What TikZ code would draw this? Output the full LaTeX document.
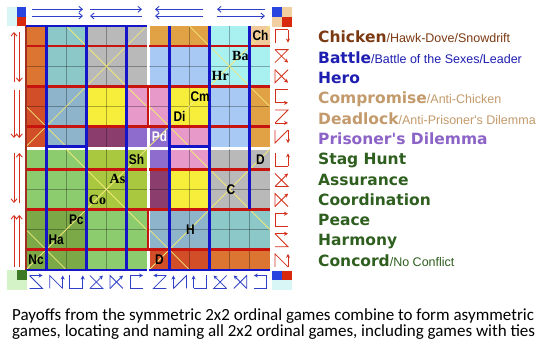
\documentclass[tikz,border=0pt]{standalone}
\usepackage{fontspec}
\usepackage{graphicx}
\setmainfont{Liberation Sans}
\newfontfamily\vfont{DejaVu Sans}
\newfontfamily\afont{Liberation Sans}
\newfontfamily\sfont{Liberation Serif}
\newfontfamily\cfont{Carlito}
\usetikzlibrary{arrows.meta}
% cell colours
\definecolor{cO}{HTML}{DD7532}
\definecolor{cR}{HTML}{D24E28}
\definecolor{cT}{HTML}{8CC8C8}
\definecolor{cB}{HTML}{8DB4CB}
\definecolor{cG}{HTML}{B9B9B9}
\definecolor{cY}{HTML}{F7EE3C}
\definecolor{cK}{HTML}{E799C9}
\definecolor{cM}{HTML}{8B3D6E}
\definecolor{cP}{HTML}{8E6CCD}
\definecolor{cA}{HTML}{E1A145}
\definecolor{cL}{HTML}{A9C9F5}
\definecolor{cC}{HTML}{A9F1F1}
\definecolor{cE}{HTML}{F1CA9B}
\definecolor{cN}{HTML}{8DCB6F}
\definecolor{cW}{HTML}{A9C83F}
\definecolor{cV}{HTML}{7CA948}
% lines and decorations
\definecolor{thred}{HTML}{C8140F}
\definecolor{thblue}{HTML}{1515C8}
\definecolor{diagy}{HTML}{F0E878}
\definecolor{icred}{HTML}{D4301C}
\definecolor{icblue}{HTML}{2F3FC8}
\definecolor{edgered}{HTML}{A03020}
\definecolor{crcyan}{HTML}{D8F6F6}
\definecolor{crblue}{HTML}{2845E0}
\definecolor{crred}{HTML}{D8280E}
\definecolor{crpeach}{HTML}{F2CFA0}
\definecolor{crlgreen}{HTML}{D4F4C8}
\definecolor{crdgreen}{HTML}{3E7A26}
% legend colours
\definecolor{lbrown}{HTML}{7B3A12}
\definecolor{lblue}{HTML}{1E1EB0}
\definecolor{ltan}{HTML}{C39A6B}
\definecolor{lpurple}{HTML}{8C63C6}
\definecolor{lgreen}{HTML}{2F5F1F}

\newcommand\gicon[5]{%
  \begin{scope}[shift={(#1,#2)},x=13pt,y=13pt]
    \draw[#3,line width=0.8pt] #4;
    \draw[#3,line width=0.8pt,-{Stealth[length=4pt,width=4pt]}] #5;
  \end{scope}}
\newcommand\lb[1]{{\vfont\bfseries\fontsize{15.5}{18}\selectfont #1}}
\newcommand\lr[1]{{\afont\mdseries\fontsize{12.5}{15}\selectfont #1}}
\newcommand\nq[1]{\scalebox{0.85}[1]{#1}}

\begin{document}
\begin{tikzpicture}[x=1pt,y=-1pt,
  thinl/.style={black,opacity=0.3,line width=0.5pt},
  diagl/.style={diagy,line width=0.8pt},
  redl/.style={thred,line width=2.8pt},
  bluel/.style={thblue,line width=2.8pt},
  barrowb/.style={icblue,line width=0.9pt,-{Straight Barb[length=3.5pt,width=6pt]}},
  barrowr/.style={icred,line width=0.9pt,-{Straight Barb[length=3.5pt,width=6pt]}},
  lab/.style={inner sep=0pt,font=\afont\bfseries\fontsize{14}{14}\selectfont},
  labs/.style={inner sep=0pt,font=\sfont\bfseries\fontsize{14}{14}\selectfont},
  leg/.style={anchor=base west,inner sep=0pt},
  capt/.style={anchor=base west,inner sep=0pt,font=\cfont\fontsize{17}{17}\selectfont}]
\useasboundingbox (0,0) rectangle (550,347);
\fill[white] (0,0) rectangle (550,347);

% ---- cells
\foreach \rowl [count=\ri from 0] in {
 {O,T,T,G,G,G,A,A,A,C,C,E},
 {O,T,T,G,G,G,L,L,L,C,C,C},
 {O,T,T,G,G,G,L,L,L,C,C,C},
 {R,B,B,Y,Y,K,K,Y,Y,L,L,A},
 {R,B,B,Y,Y,K,K,Y,Y,L,L,A},
 {R,B,B,M,M,P,P,K,K,L,L,A},
 {N,N,N,W,W,W,P,K,K,G,G,G},
 {N,N,N,W,W,W,M,Y,Y,G,G,G},
 {N,N,N,W,W,W,M,Y,Y,G,G,G},
 {V,V,V,N,N,N,B,B,B,T,T,T},
 {V,V,V,N,N,N,B,B,B,T,T,T},
 {V,V,V,N,N,N,R,R,R,O,O,O}}{
  \foreach \k [count=\ci from 0] in \rowl {
    \pgfmathsetmacro\xa{26+20.1*\ci+3.2*(\ci>5)}
    \pgfmathsetmacro\ya{26+20.1*\ri+3.2*(\ri>5)}
    \fill[c\k] (\xa,\ya) rectangle ++(20.15,20.15);
  }
}

% ---- thin grid lines and yellow diagonals
\foreach \qx in {26,149.2}{
  \foreach \qy in {26,149.2}{
    \foreach \k in {1,...,5}{
      \draw[thinl] (\qx+20.1*\k,\qy) -- ++(0,120.6);
      \draw[thinl] (\qx,\qy+20.1*\k) -- ++(120.6,0);
    }
    \draw[diagl] (\qx,\qy+120.6) -- (\qx+120.6,\qy);
    \draw[diagl] (\qx+40.2,\qy) -- (\qx+120.6,\qy+80.4);
    \draw[diagl] (\qx,\qy+80.4) -- (\qx+40.2,\qy+120.6);
  }
}

% ---- thick red lines
\draw[redl] (26,46.1) -- (146.6,46.1);
\draw[redl] (149.2,46.1) -- (270.4,46.1);
\draw[redl] (26,86.3) -- (270.4,86.3);
\draw[redl] (26,126.5) -- (270.4,126.5);
\draw[redl] (148,86.3) -- (148,126.5);
\draw[redl] (26,169.3) -- (146.6,169.3);
\draw[redl] (149.2,169.3) -- (270.4,169.3);
\draw[redl] (26,209.5) -- (270.4,209.5);
\draw[redl] (26,249.7) -- (270.4,249.7);
\draw[redl] (148,209.5) -- (148,249.7);
\draw[edgered,line width=1.2pt] (26,26) -- (26,270);

% ---- thick blue lines
\foreach \bx in {46.1,86.3,126.5,169.3,209.5}{
  \draw[bluel] (\bx,26) -- (\bx,270);
}
\draw[bluel] (249.7,26) -- (249.7,209.5);
\draw[bluel] (26,26) -- (146.6,26);
\draw[bluel] (46.1,146.6) -- (86.3,146.6);
\draw[bluel] (169.3,146.6) -- (209.5,146.6);
\draw[bluel] (26,270) -- (146.6,270);
\draw[bluel] (149.2,270) -- (270.4,270);

% ---- cell labels
\node[lab] (Ch) at (260.5,36) {\nq{Ch}};
\node[labs] (Ba) at (240.4,56.2) {Ba};
\node[labs] (Hr) at (220.2,76.3) {Hr};
\node[lab] (Cm) at (200.1,96.4) {\nq{Cm}};
\node[lab] (Di) at (179.5,116.5) {\nq{Di}};
\node[lab,text=white] (Pd) at (159.5,136.6) {\nq{Pd}};
\node[lab] (Sh) at (136.6,159.3) {\nq{Sh}};
\node[labs] (As) at (117.5,179.4) {As};
\node[labs] (Co) at (97.5,199.5) {Co};
\node[lab] (Pc) at (76.3,219.6) {\nq{Pc}};
\node[lab] (Ha) at (56.2,239.7) {\nq{Ha}};
\node[lab] (Nc) at (36.1,259.8) {\nq{Nc}};
\node[lab] (D1) at (260.5,159.3) {\nq{D}};
\node[lab] (Cc) at (231,189.4) {\nq{C}};
\node[lab] (Hh) at (190.4,229.6) {\nq{H}};
\node[lab] (D2) at (159.5,259.8) {\nq{D}};

% ---- corners
\fill[crcyan] (7.3,7.3) rectangle (26,26);
\fill[crblue] (16.7,7.3) rectangle (26,16.7);
\fill[crred] (16.7,16.7) rectangle (26,26);
\fill[crblue] (272,7) rectangle (282,17);
\fill[crpeach] (282,7) rectangle (292,17);
\fill[crpeach] (272,17) rectangle (282,27);
\fill[crred] (282,17) rectangle (292,27);
\fill[crlgreen] (7.3,270.5) rectangle (27,290);
\fill[crdgreen] (17,270.5) rectangle (27,280);
\fill[crblue] (272,271) rectangle (282,280);
\fill[crred] (282,271) rectangle (292,280);
\fill[crcyan] (272,280) rectangle (292,290);

% ---- top arrows
\draw[barrowb] (32,9.3) -- (83,9.3);
\draw[barrowb] (32,16) -- (83,16);
\draw[barrowb] (90,9.3) -- (142,9.3);
\draw[barrowb] (142,16) -- (90,16);
\draw[barrowb] (203,9.3) -- (155,9.3);
\draw[barrowb] (203,16) -- (155,16);
\draw[barrowb] (265,9.3) -- (217,9.3);
\draw[barrowb] (217,16) -- (265,16);

% ---- left arrows
\draw[barrowr] (14,82) -- (14,32);
\draw[barrowr] (19.3,32) -- (19.3,82);
\draw[barrowr] (14,90) -- (14,138);
\draw[barrowr] (19.3,90) -- (19.3,138);
\draw[barrowr] (14,153) -- (14,203);
\draw[barrowr] (19.3,203) -- (19.3,153);
\draw[barrowr] (14,267) -- (14,215);
\draw[barrowr] (19.3,267) -- (19.3,215);

% ---- right icons (red)
\gicon{275}{42.55}{icred}{(0,0)--(0,1)--(1,1)}{(1,1)--(1,0)}
\gicon{275}{62.65}{icred}{(0,1)--(1,1)--(0,0)}{(0,1)--(1,0)}
\gicon{275}{82.75}{icred}{(0,1)--(0,0)--(1,1)}{(0,1)--(1,0)}
\gicon{275}{102.85}{icred}{(1,1)--(0,1)--(0,0)}{(0,0)--(1,0)}
\gicon{275}{122.95}{icred}{(0,1)--(1,1)--(0,0)}{(0,0)--(1,0)}
\gicon{275}{143.05}{icred}{(0,1)--(0,0)--(1,1)}{(1,1)--(1,0)}
\gicon{275}{166.35}{icred}{(0,1)--(0,0)--(1,0)}{(1,0)--(1,1)}
\gicon{275}{186.45}{icred}{(0,0)--(1,0)--(0,1)}{(0,0)--(1,1)}
\gicon{275}{206.55}{icred}{(0,0)--(0,1)--(1,0)}{(0,0)--(1,1)}
\gicon{275}{226.65}{icred}{(1,0)--(0,0)--(0,1)}{(0,1)--(1,1)}
\gicon{275}{246.75}{icred}{(0,0)--(1,0)--(0,1)}{(0,1)--(1,1)}
\gicon{275}{266.85}{icred}{(0,0)--(0,1)--(1,0)}{(1,0)--(1,1)}

% ---- bottom icons (blue)
\gicon{29.55}{288.5}{icblue}{(0,0)--(1,0)--(0,1)}{(0,1)--(1,1)}
\gicon{49.65}{288.5}{icblue}{(0,0)--(0,1)--(1,0)}{(1,0)--(1,1)}
\gicon{69.75}{288.5}{icblue}{(0,1)--(0,0)--(1,0)}{(1,0)--(1,1)}
\gicon{89.85}{288.5}{icblue}{(0,0)--(1,0)--(0,1)}{(0,0)--(1,1)}
\gicon{109.95}{288.5}{icblue}{(0,0)--(0,1)--(1,0)}{(0,0)--(1,1)}
\gicon{130.05}{288.5}{icblue}{(1,0)--(0,0)--(0,1)}{(0,1)--(1,1)}
\gicon{153.35}{288.5}{icblue}{(1,0)--(0,0)--(1,1)}{(1,1)--(0,1)}
\gicon{173.45}{288.5}{icblue}{(1,0)--(1,1)--(0,0)}{(0,0)--(0,1)}
\gicon{193.55}{288.5}{icblue}{(1,1)--(1,0)--(0,0)}{(0,0)--(0,1)}
\gicon{213.65}{288.5}{icblue}{(1,0)--(0,0)--(1,1)}{(1,0)--(0,1)}
\gicon{233.75}{288.5}{icblue}{(1,0)--(1,1)--(0,0)}{(1,0)--(0,1)}
\gicon{253.85}{288.5}{icblue}{(0,0)--(1,0)--(1,1)}{(1,1)--(0,1)}

% ---- legend
\node[leg,text=lbrown] (lg0) at (318,43) {\lb{Chicken}\lr{/Hawk-Dove/Snowdrift}};
\node[leg,text=lblue] (lg1) at (318,63.3) {\lb{Battle}\lr{/Battle of the Sexes/Leader}};
\node[leg,text=lblue] (lg2) at (318,83.6) {\lb{Hero}};
\node[leg,text=ltan] (lg3) at (318,103.9) {\lb{Compromise}\lr{/Anti-Chicken}};
\node[leg,text=ltan] (lg4) at (318,124.2) {\lb{Deadlock}\lr{/Anti-Prisoner's Dilemma}};
\node[leg,text=lpurple] (lg5) at (318,144.5) {\lb{Prisoner's Dilemma}};
\node[leg,text=lgreen] (lg6) at (318,164.8) {\lb{Stag Hunt}};
\node[leg,text=lgreen] (lg7) at (318,185.1) {\lb{Assurance}};
\node[leg,text=lgreen] (lg8) at (318,205.4) {\lb{Coordination}};
\node[leg,text=lgreen] (lg9) at (318,225.7) {\lb{Peace}};
\node[leg,text=lgreen] (lg10) at (318,246) {\lb{Harmony}};
\node[leg,text=lgreen] (lg11) at (318,266.3) {\lb{Concord}\lr{/No Conflict}};

% ---- caption
\node[capt] (cap1) at (12,321) {Payoffs from the symmetric 2x2 ordinal games combine to form asymmetric};
\node[capt] (cap2) at (12,337) {games, locating and naming all 2x2 ordinal games, including games with ties};
\end{tikzpicture}
\end{document}
